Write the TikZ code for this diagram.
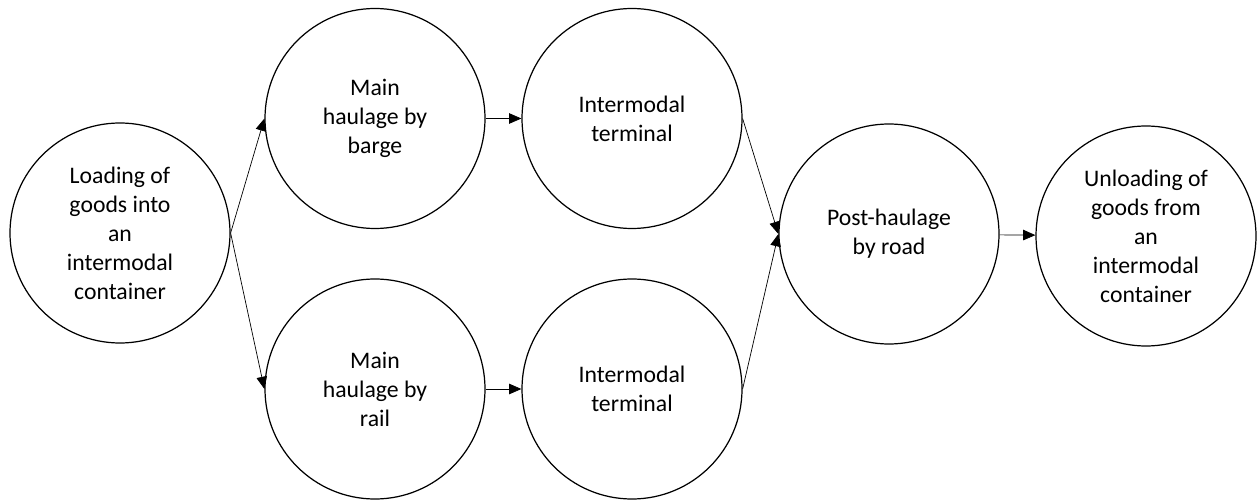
\documentclass[tikz,border=0pt]{standalone}
\usepackage{fontspec}
\setmainfont{Carlito}
\usepackage{tikz}
\usetikzlibrary{arrows.meta}

\begin{document}
\begin{tikzpicture}[scale=1,
  etape/.style={draw, circle, line width=0.7pt, minimum size=4.4cm, inner sep=0pt, align=center, font=\fontsize{13.5}{16.5}\selectfont},
  fleche/.style={-{Triangle[length=7pt,width=6pt]}, line width=0.4pt}]
\useasboundingbox (0,0) rectangle (25.16,10.04);
\node[etape] (load) at (2.4,5.38) {Loading of\\goods into\\an\\intermodal\\container};
\node[etape] (barge) at (7.5,7.67) {Main\\haulage by\\barge};
\node[etape] (rail) at (7.5,2.26) {Main\\haulage by\\rail};
\node[etape] (termA) at (12.64,7.67) {Intermodal\\terminal};
\node[etape] (termB) at (12.64,2.26) {Intermodal\\terminal};
\node[etape] (post) at (17.78,5.36) {Post-haulage\\by road};
\node[etape] (unload) at (22.92,5.32) {Unloading of\\goods from\\an\\intermodal\\container};

\draw[fleche] (load.east)--(barge.west);
\draw[fleche] (load.east)--(rail.west);
\draw[fleche] (barge)--(termA);
\draw[fleche] (rail)--(termB);
\draw[fleche] (termA.east)--(post.west);
\draw[fleche] (termB.east)--(post.west);
\draw[fleche] (post)--(unload);

\end{tikzpicture}
\end{document}
